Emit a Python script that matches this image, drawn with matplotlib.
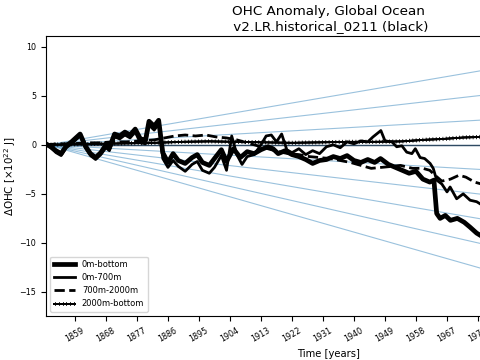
import matplotlib
matplotlib.use('Agg')
import matplotlib.pyplot as plt
import matplotlib.patheffects as pe
import numpy as np

# Global ocean heat content anomaly (x 10^22 J)
yr_total = [1850.6, 1852, 1853.5, 1855, 1856.5, 1858, 1860.5, 1862, 1863.5, 1865, 1866.5,
            1868, 1869, 1870.5, 1872, 1873.5, 1875, 1876.5, 1878, 1879.5, 1880.5, 1882,
            1883.3, 1884.5, 1886, 1887.5, 1889, 1891, 1893, 1894.5, 1896, 1898, 1899.5,
            1901.5, 1903, 1905, 1907, 1909, 1911, 1913, 1915, 1916.5, 1918, 1920, 1922,
            1924, 1926, 1928, 1930, 1932, 1934, 1936, 1938, 1940, 1942, 1944, 1946,
            1947.7, 1950, 1952, 1954, 1956, 1958, 1960, 1962, 1963.2, 1964, 1965,
            1966.5, 1968, 1970, 1972, 1973.7, 1975.6, 1977]
ohc_total = [0.1, -0.2, -0.6, -0.9, -0.1, 0.3, 1.1, -0.1, -0.9, -1.3, -0.8,
             0.0, -0.3, 1.1, 0.9, 1.3, 1.0, 1.6, 0.6, 0.5, 2.4, 1.9,
             2.5, -0.8, -1.8, -0.9, -1.6, -1.9, -1.3, -1.0, -1.8, -2.1, -1.4,
             -0.5, -1.7, -0.4, -1.3, -0.7, -0.9, -0.5, -0.2, -0.4, -0.9, -0.6, -1.0,
             -1.2, -1.5, -1.9, -1.6, -1.5, -1.2, -1.4, -1.1, -1.6, -1.8, -1.5, -1.8,
             -1.4, -2.0, -2.3, -2.6, -2.9, -2.7, -3.5, -3.8, -3.6, -7.0, -7.5,
             -7.2, -7.7, -7.5, -7.9, -8.4, -9.0, -9.3]

yr_700 = [1850.6, 1852, 1853.5, 1855, 1856.5, 1858, 1860.5, 1862, 1863.5, 1865, 1866.5,
          1868, 1869, 1870.5, 1872, 1873.5, 1875, 1876.5, 1878, 1879.5, 1880.5, 1882,
          1883.3, 1884.5, 1886, 1887.5, 1889, 1891, 1893, 1894.5, 1896, 1898, 1899.5,
          1901.5, 1903, 1904.5, 1906, 1907.5, 1909, 1911, 1913, 1914.5, 1916, 1917.5,
          1919, 1920.5, 1922, 1924, 1926, 1928, 1930, 1932, 1934, 1936, 1938, 1940,
          1942, 1944, 1945.5, 1947.8, 1949, 1951, 1952.4, 1953.9, 1955.3, 1956.8,
          1957.8, 1959.2, 1960.5, 1962.1, 1963, 1964, 1965.5, 1967, 1967.9, 1969.8,
          1971.7, 1973.7, 1975.6, 1977]
ohc_700 = [0.0, -0.3, -0.8, -1.1, -0.3, 0.1, 0.9, -0.3, -1.1, -1.5, -1.0,
           -0.3, -0.6, 0.8, 0.6, 1.0, 0.7, 1.3, 0.2, 0.1, 2.0, 1.5,
           2.1, -1.4, -2.3, -1.6, -2.2, -2.7, -2.0, -1.7, -2.6, -2.9, -2.3,
           -1.1, -2.6, 0.9, -1.0, -2.0, -1.2, -1.0, 0.0, 0.9, 1.0, 0.3,
           1.1, -0.5, -0.8, -0.4, -1.0, -0.6, -0.9, -0.2, 0.0, -0.3, 0.3, 0.1,
           0.4, 0.3, 0.8, 1.45, 0.4, 0.3, -0.2, -0.1, -0.75, -0.9,
           -0.4, -1.3, -1.4, -1.9, -2.4, -3.6, -4.0, -4.8, -4.3, -5.5,
           -5.0, -5.65, -5.8, -6.1]

yr_2000 = [1850.6, 1854, 1858, 1862, 1866, 1870, 1874, 1878, 1882, 1885, 1888, 1891,
           1894, 1897, 1900, 1903, 1906, 1909, 1912, 1915, 1918, 1921, 1924, 1927,
           1930, 1933, 1936, 1939, 1942, 1945, 1948, 1951, 1953.5, 1957, 1960, 1962,
           1963.5, 1965.5, 1968, 1970.5, 1972.5, 1975, 1977]
ohc_2000 = [0.0, 0.1, 0.1, 0.2, 0.2, 0.3, 0.3, 0.4, 0.5, 0.7, 0.9, 1.0,
            0.9, 1.0, 0.8, 0.7, 0.5, 0.2, -0.1, -0.4, -0.7, -0.9, -1.0, -1.2,
            -1.3, -1.4, -1.6, -1.8, -2.1, -2.4, -2.3, -2.2, -2.1, -2.4, -2.4, -2.6,
            -3.1, -3.7, -3.5, -3.1, -3.3, -3.8, -4.0]

yr_deep = [1850.6, 1858, 1866, 1874, 1882, 1890, 1898, 1906, 1914, 1922, 1930, 1938,
           1946, 1954, 1960, 1966, 1972, 1977]
ohc_deep = [0.0, 0.05, 0.1, 0.15, 0.2, 0.3, 0.35, 0.3, 0.25, 0.2, 0.25, 0.3,
            0.3, 0.35, 0.5, 0.6, 0.75, 0.8]

# reference trend lines (x 10^22 J per year)
trend_slopes = [-0.10, -0.08, -0.06, -0.04, -0.02, 0.0, 0.02, 0.04, 0.06]
trend_start = 1851
x_min, x_max = 1850.6, 2014.6
tick_years = list(range(1859, 2014, 9))

fig = plt.figure(figsize=(4.8, 3.6), dpi=100)
# the axes run past the right edge of the picture, as in the reference
ax = fig.add_axes([46/480, 44/360, 565/480, 280/360])

for s in trend_slopes:
    ax.plot([trend_start, x_max], [0, s*(x_max - trend_start)],
            color='C0', alpha=0.45, lw=0.8, zorder=1)
ax.axhline(0, color='#2f4a63', lw=1.0, zorder=1.5)

ax.plot(yr_total, ohc_total, color='k', lw=3.4, label='0m-bottom', zorder=3)
ax.plot(yr_700, ohc_700, color='k', lw=2.0, label='0m-700m', zorder=3)
ax.plot(yr_2000, ohc_2000, color='k', lw=2.0, ls='--', label='700m-2000m', zorder=3)
ax.plot(yr_deep, ohc_deep, color='k', lw=1.3, label='2000m-bottom', zorder=3,
        path_effects=[pe.withTickedStroke(angle=90, spacing=2.4, length=0.5, linewidth=0.6),
                      pe.withTickedStroke(angle=-90, spacing=2.4, length=0.5, linewidth=0.6),
                      pe.Normal()])

ax.set_xlim(x_min, x_max)
ax.set_ylim(-17.45, 11.09)
ax.set_xticks(tick_years)
ax.set_yticks([-15, -10, -5, 0, 5, 10])
ax.tick_params(labelsize=5.8)
plt.setp(ax.get_xticklabels(), rotation=30)

ax.set_title('OHC Anomaly, Global Ocean\n v2.LR.historical_0211 (black)', fontsize=9.7, pad=4)
ax.set_xlabel('Time [years]', fontsize=7.2)
ax.set_ylabel(r'$\Delta$OHC [$\times10^{22}$ J]', fontsize=7.4, labelpad=1)
ax.legend(loc='lower left', fontsize=6, handlelength=2.6)

fig.savefig('out.png', dpi=100)
